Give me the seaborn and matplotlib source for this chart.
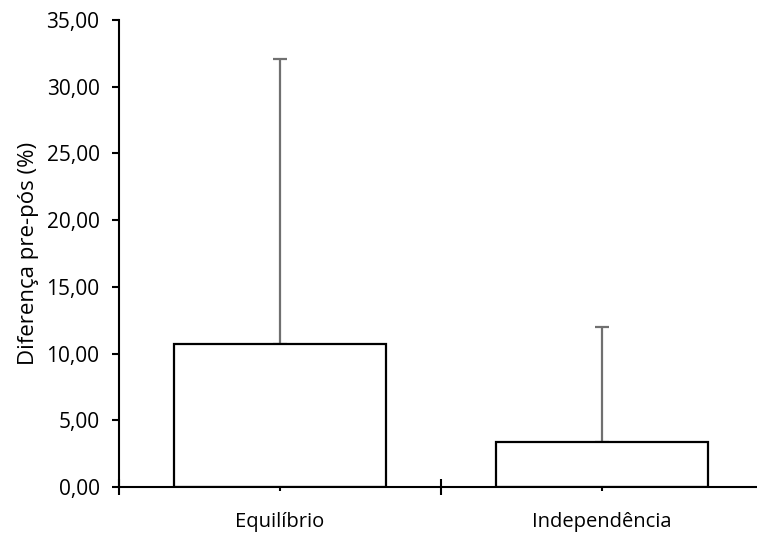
import numpy as np
import pandas as pd
import matplotlib
matplotlib.use("Agg")
import matplotlib.pyplot as plt
import seaborn as sns
from matplotlib.ticker import FuncFormatter, FixedLocator

categorias = ["Equilíbrio", "Independência"]
media = [10.72, 3.35]
desvio = [21.34, 8.67]

df = pd.DataFrame({"categoria": categorias, "diferenca": media})

sns.set_style("white")
plt.rcParams["font.family"] = ["Open Sans", "DejaVu Sans"]
plt.rcParams["text.color"] = "black"
plt.rcParams["axes.labelcolor"] = "black"

fig = plt.figure(figsize=(7.57, 5.33), dpi=100)
ax = fig.add_axes([119 / 757, 46 / 533, 644 / 757, 467 / 533])

sns.barplot(data=df, x="categoria", y="diferenca", color="white", edgecolor="black",
            linewidth=1.6, width=0.66, errorbar=None, ax=ax, zorder=2)
ax.errorbar(range(len(categorias)), media, yerr=[np.zeros(len(desvio)), desvio],
            fmt="none", ecolor="#707070", elinewidth=1.6, capsize=5, capthick=1.6, zorder=1)

ax.set_xlim(-0.5, 1.5)
ax.set_ylim(0, 35)
ax.set_yticks(np.arange(0, 36, 5))
ax.yaxis.set_major_formatter(FuncFormatter(lambda v, p: f"{v:.2f}".replace(".", ",")))
ax.xaxis.set_minor_locator(FixedLocator([-0.5, 0.5, 1.5]))

ax.tick_params(axis="y", which="major", left=True, direction="out", length=5, width=1.5,
               color="black", labelcolor="black", labelsize=15, pad=9)
ax.tick_params(axis="x", which="major", bottom=True, direction="out", length=3, width=1.5,
               color="black", labelcolor="black", labelsize=14.5, pad=15)
ax.tick_params(axis="x", which="minor", bottom=True, direction="inout", length=12, width=1.5,
               color="black")

for s in ["top", "right"]:
    ax.spines[s].set_visible(False)
for s in ["left", "bottom"]:
    ax.spines[s].set_color("black")
    ax.spines[s].set_linewidth(1.5)

ax.set_xlabel("")
ax.set_ylabel("Diferença pre-pós (%)", fontsize=16, labelpad=5)

fig.savefig("out.png", dpi=100)
